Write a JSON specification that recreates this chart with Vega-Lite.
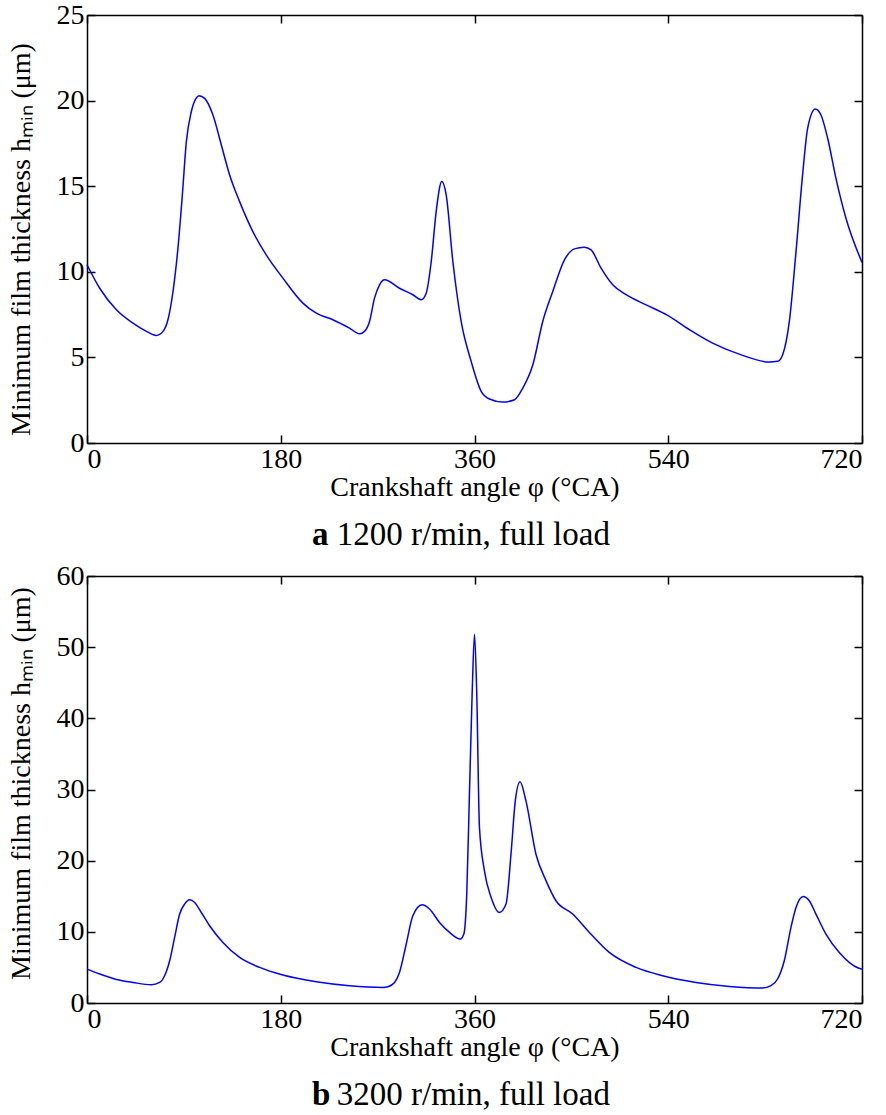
{
  "$schema": "https://vega.github.io/schema/vega-lite/v6.json",
  "background": "white",
  "padding": {"left": 7, "top": 1, "right": 5, "bottom": 5},
  "config": {
    "font": "Liberation Serif",
    "view": {"stroke": null},
    "axis": {
      "labelFont": "Liberation Serif", "labelFontSize": 28, "labelColor": "black",
      "titleFontSize": 28, "titleFontWeight": "normal", "titleColor": "black",
      "domainColor": "black", "domainWidth": 1.5, "tickColor": "black", "tickWidth": 1.5, "tickSize": -8,
      "grid": false
    },
    "axisX": {"labelPadding": 10},
    "axisY": {"labelPadding": 11}
  },
  "spacing": 133,
  "bounds": "flush",
  "datasets": {
    "a": [
      {"angle":0,"h":10.41},{"angle":11.8,"h":9.04},{"angle":27.3,"h":7.78},{"angle":42.7,"h":7.0},{"angle":55.2,"h":6.52},{"angle":64.4,"h":6.28},{"angle":70.6,"h":6.52},{"angle":75.2,"h":7.2},{"angle":79.9,"h":8.85},{"angle":84.5,"h":11.38},{"angle":88.6,"h":14.5},{"angle":92.3,"h":17.6},{"angle":96.9,"h":19.35},{"angle":101,"h":20.1},{"angle":104,"h":20.29},{"angle":109.3,"h":20.13},{"angle":117,"h":19.16},{"angle":124.8,"h":17.41},{"angle":132.5,"h":15.66},{"angle":141.8,"h":14.1},{"angle":154.1,"h":12.35},{"angle":166.5,"h":10.99},{"angle":182,"h":9.63},{"angle":200.6,"h":8.17},{"angle":213,"h":7.58},{"angle":228.4,"h":7.2},{"angle":243.9,"h":6.71},{"angle":253.2,"h":6.38},{"angle":257.8,"h":6.52},{"angle":262.5,"h":7.1},{"angle":267.1,"h":8.46},{"angle":271.8,"h":9.24},{"angle":276.4,"h":9.53},{"angle":290.3,"h":9.04},{"angle":302.7,"h":8.66},{"angle":310.5,"h":8.37},{"angle":315.1,"h":8.75},{"angle":319.8,"h":10.6},{"angle":324.4,"h":13.52},{"angle":329.6,"h":15.27},{"angle":333.7,"h":14.49},{"angle":339.9,"h":10.6},{"angle":347.6,"h":7.1},{"angle":356.9,"h":4.77},{"angle":366.2,"h":3.02},{"angle":373.9,"h":2.57},{"angle":386.3,"h":2.39},{"angle":397.2,"h":2.53},{"angle":404.9,"h":3.21},{"angle":414.2,"h":4.57},{"angle":423.4,"h":7.1},{"angle":432.7,"h":8.85},{"angle":443.6,"h":10.7},{"angle":452.8,"h":11.34},{"angle":462.1,"h":11.44},{"angle":468.3,"h":11.28},{"angle":477.6,"h":10.21},{"angle":488.4,"h":9.24},{"angle":500.8,"h":8.66},{"angle":519.4,"h":8.07},{"angle":539.5,"h":7.45},{"angle":559.6,"h":6.62},{"angle":581.2,"h":5.83},{"angle":609.1,"h":5.12},{"angle":633.9,"h":4.73},{"angle":641.6,"h":4.77},{"angle":646.3,"h":5.16},{"angle":652.5,"h":7.1},{"angle":658.7,"h":11.18},{"angle":664.8,"h":15.66},{"angle":669.5,"h":18.38},{"angle":676.6,"h":19.51},{"angle":681.9,"h":19.16},{"angle":688.1,"h":17.8},{"angle":695.8,"h":15.46},{"angle":705.1,"h":13.13},{"angle":720,"h":10.55}
    ],
    "b": [
      {"angle":0,"h":4.77},{"angle":11.8,"h":4.07},{"angle":27.3,"h":3.31},{"angle":42.7,"h":2.89},{"angle":59.8,"h":2.57},{"angle":67.5,"h":2.89},{"angle":72.1,"h":3.83},{"angle":76.8,"h":5.94},{"angle":81.4,"h":9.21},{"angle":86.1,"h":12.5},{"angle":90.7,"h":13.9},{"angle":95.4,"h":14.5},{"angle":100,"h":14.13},{"angle":106.2,"h":12.72},{"angle":113.9,"h":10.86},{"angle":126.3,"h":8.51},{"angle":141.8,"h":6.4},{"angle":160.4,"h":5.0},{"angle":182,"h":3.93},{"angle":213,"h":2.99},{"angle":243.9,"h":2.43},{"angle":274.9,"h":2.19},{"angle":279.5,"h":2.29},{"angle":285.7,"h":2.89},{"angle":290.3,"h":4.3},{"angle":296.6,"h":8.29},{"angle":302.7,"h":12.26},{"angle":311.4,"h":13.8},{"angle":318.2,"h":13.2},{"angle":327.5,"h":11.32},{"angle":336.8,"h":9.92},{"angle":346.7,"h":8.98},{"angle":350.1,"h":9.69},{"angle":352.8,"h":15.3},{"angle":355.3,"h":29.35},{"angle":357.8,"h":43.4},{"angle":360,"h":51.8},{"angle":362.1,"h":43.4},{"angle":364.6,"h":24.7},{"angle":369.2,"h":18.6},{"angle":375.4,"h":14.86},{"angle":383.1,"h":12.72},{"angle":389.3,"h":13.9},{"angle":393.9,"h":20.9},{"angle":397.9,"h":28.4},{"angle":402.3,"h":31.1},{"angle":407.8,"h":28.4},{"angle":417.1,"h":20.9},{"angle":426.4,"h":17.2},{"angle":435.7,"h":14.37},{"angle":451.2,"h":12.5},{"angle":466.7,"h":9.92},{"angle":485.2,"h":7.11},{"angle":510.1,"h":5.0},{"angle":534.8,"h":3.83},{"angle":565.8,"h":2.89},{"angle":596.8,"h":2.33},{"angle":627.7,"h":2.1},{"angle":635.5,"h":2.43},{"angle":641.6,"h":3.37},{"angle":647.8,"h":5.94},{"angle":654,"h":10.62},{"angle":658.7,"h":13.43},{"angle":665.4,"h":14.97},{"angle":671,"h":14.37},{"angle":677.2,"h":12.5},{"angle":686.5,"h":9.69},{"angle":698.9,"h":7.11},{"angle":716.5,"h":4.92},{"angle":720,"h":4.75}
    ]
  },
  "vconcat": [
    {
      "width": 775, "height": 428,
      "data": {"name": "a"},
      "title": {"text": "a", "subtitle": "\u200b\u00a0\u00a0\u00a01200 r/min, full load", "orient": "bottom", "anchor": "start", "frame": "group", "dx": 225, "offset": 18,
        "font": "Liberation Serif", "fontSize": 33, "fontWeight": "bold", "color": "black",
        "subtitleFont": "Liberation Serif", "subtitleFontSize": 33, "subtitleFontWeight": "normal", "subtitleColor": "black", "subtitlePadding": -33},
      "layer": [
        {
          "mark": {"type": "line", "color": "#0000ff", "strokeWidth": 1.5, "interpolate": "monotone"},
          "encoding": {
            "x": {"field": "angle", "type": "quantitative", "scale": {"domain": [0, 720], "nice": false},
                  "axis": {"orient": "bottom", "values": [0, 180, 360, 540, 720], "title": "Crankshaft angle φ (°CA)", "titlePadding": 0, "titleFont": "Liberation Serif"}},
            "y": {"field": "h", "type": "quantitative", "scale": {"domain": [0, 25], "nice": false},
                  "axis": {"orient": "left", "values": [0, 5, 10, 15, 20, 25], "title": "Minimum film thickness hₘᵢₙ (μm)", "titlePadding": 21, "titleY": 224, "titleFont": "Liberation Serif"}}
          }
        },
        {
          "mark": {"type": "line", "opacity": 0},
          "encoding": {
            "x": {"field": "angle", "type": "quantitative", "scale": {"domain": [0, 720], "nice": false},
                  "axis": {"orient": "top", "values": [0, 180, 360, 540, 720], "labels": false, "title": null}},
            "y": {"field": "h", "type": "quantitative", "scale": {"domain": [0, 25], "nice": false},
                  "axis": {"orient": "right", "values": [0, 5, 10, 15, 20, 25], "labels": false, "title": null}}
          }
        }
      ],
      "resolve": {"axis": {"x": "independent", "y": "independent"}}
    },
    {
      "width": 775, "height": 427,
      "data": {"name": "b"},
      "title": {"text": "b", "subtitle": "\u200b\u00a0\u00a0\u00a03200 r/min, full load", "orient": "bottom", "anchor": "start", "frame": "group", "dx": 225, "offset": 18,
        "font": "Liberation Serif", "fontSize": 33, "fontWeight": "bold", "color": "black",
        "subtitleFont": "Liberation Serif", "subtitleFontSize": 33, "subtitleFontWeight": "normal", "subtitleColor": "black", "subtitlePadding": -33},
      "layer": [
        {
          "mark": {"type": "line", "color": "#0000ff", "strokeWidth": 1.5, "interpolate": "monotone"},
          "encoding": {
            "x": {"field": "angle", "type": "quantitative", "scale": {"domain": [0, 720], "nice": false},
                  "axis": {"orient": "bottom", "values": [0, 180, 360, 540, 720], "title": "Crankshaft angle φ (°CA)", "titlePadding": 0, "titleFont": "Liberation Serif"}},
            "y": {"field": "h", "type": "quantitative", "scale": {"domain": [0, 60], "nice": false},
                  "axis": {"orient": "left", "values": [0, 10, 20, 30, 40, 50, 60], "title": "Minimum film thickness hₘᵢₙ (μm)", "titlePadding": 21, "titleY": 207, "titleFont": "Liberation Serif"}}
          }
        },
        {
          "mark": {"type": "line", "opacity": 0},
          "encoding": {
            "x": {"field": "angle", "type": "quantitative", "scale": {"domain": [0, 720], "nice": false},
                  "axis": {"orient": "top", "values": [0, 180, 360, 540, 720], "labels": false, "title": null}},
            "y": {"field": "h", "type": "quantitative", "scale": {"domain": [0, 60], "nice": false},
                  "axis": {"orient": "right", "values": [0, 10, 20, 30, 40, 50, 60], "labels": false, "title": null}}
          }
        }
      ],
      "resolve": {"axis": {"x": "independent", "y": "independent"}}
    }
  ]
}
